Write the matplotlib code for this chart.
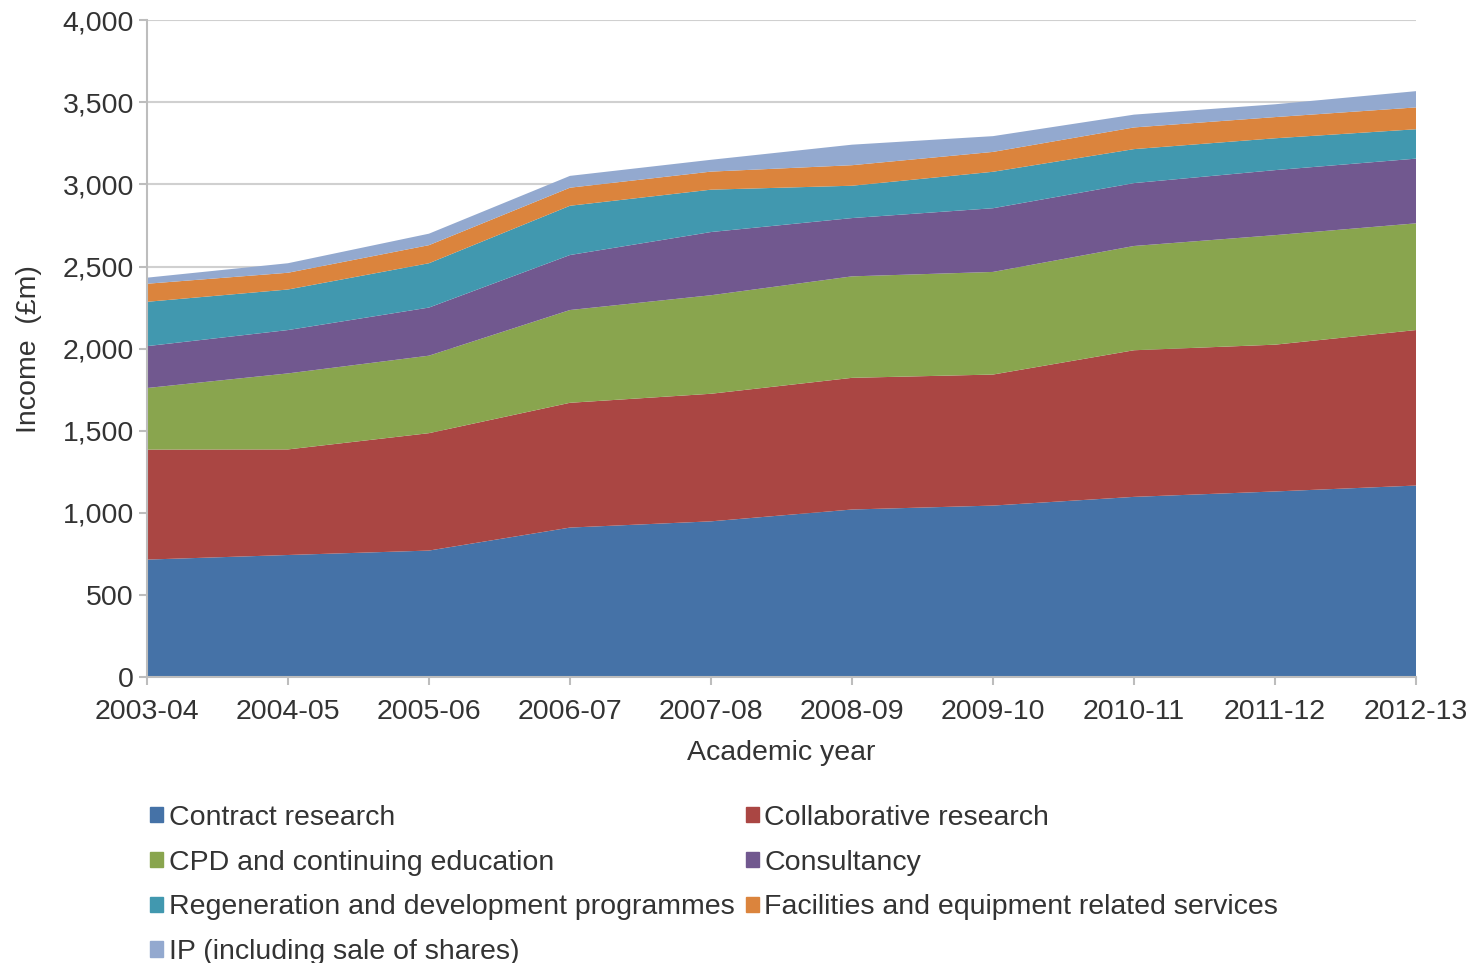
import numpy as np
import matplotlib
matplotlib.use("Agg")
import matplotlib.pyplot as plt
from matplotlib.patches import Patch
from matplotlib.ticker import FuncFormatter

plt.rcParams['font.family'] = ['Liberation Sans', 'DejaVu Sans']

years = ["2003-04", "2004-05", "2005-06", "2006-07", "2007-08",
         "2008-09", "2009-10", "2010-11", "2011-12", "2012-13"]

# income by source, £m
contract = [715, 743, 770, 910, 948, 1020, 1044, 1097, 1130, 1166]
collab = [670, 643, 715, 760, 777, 802, 798, 893, 894, 947]
cpd = [375, 463, 472, 565, 600, 618, 625, 635, 667, 650]
consult = [255, 264, 293, 335, 385, 355, 388, 383, 396, 394]
regen = [270, 247, 270, 300, 258, 197, 222, 207, 194, 179]
facilities = [110, 102, 110, 110, 110, 125, 121, 132, 129, 133]
ip = [37, 58, 70, 72, 72, 125, 96, 78, 78, 99]

labels = ["Contract research", "Collaborative research",
          "CPD and continuing education", "Consultancy",
          "Regeneration and development programmes",
          "Facilities and equipment related services",
          "IP (including sale of shares)"]
colors = ["#4572A7", "#AA4643", "#89A54E", "#71588F",
          "#4198AF", "#DB843D", "#93A9CF"]

txt = "#333333"
fs = 20.5

fig = plt.figure(figsize=(14.77, 9.63), dpi=100)
ax = fig.add_axes([0.0995, 0.297, 0.8592, 0.682])

x = np.arange(len(years))
ax.stackplot(x, contract, collab, cpd, consult, regen, facilities, ip,
             colors=colors, labels=labels, linewidth=0, zorder=2)

ax.set_xlim(0, len(years) - 1)
ax.set_ylim(0, 4000)
ax.set_yticks(np.arange(0, 4001, 500))
ax.yaxis.set_major_formatter(FuncFormatter(lambda v, p: f"{int(v):,}"))
ax.set_xticks(x)
ax.set_xticklabels(years)
ax.grid(axis='y', color='#d0d0d0', linewidth=1.5, zorder=0)
ax.set_axisbelow(True)

for s in ['top', 'right']:
    ax.spines[s].set_visible(False)
for s in ['left', 'bottom']:
    ax.spines[s].set_color('#bdbdbd')
    ax.spines[s].set_linewidth(1.5)

ax.tick_params(axis='both', labelsize=fs, colors=txt, length=6,
               width=1.5, color='#bdbdbd')
ax.tick_params(axis='x', pad=10)

ax.set_xlabel("Academic year", fontsize=fs, color=txt, labelpad=11)
ax.set_ylabel("Income  (£m)", fontsize=fs, color=txt, labelpad=15)

# legend laid out in rows of two, matplotlib fills by column
handles = [Patch(color=c) for c in colors]
order = [0, 2, 4, 6, 1, 3, 5]
ax.legend([handles[i] for i in order], [labels[i] for i in order],
          loc='upper left', bbox_to_anchor=(0.092, 0.179),
          bbox_transform=fig.transFigure, ncol=2, frameon=False,
          fontsize=fs, handlelength=0.45, handleheight=0.45,
          handletextpad=0.2, columnspacing=0.4, labelspacing=0.66,
          borderpad=0, labelcolor=txt)

fig.savefig("out.png", dpi=100)
